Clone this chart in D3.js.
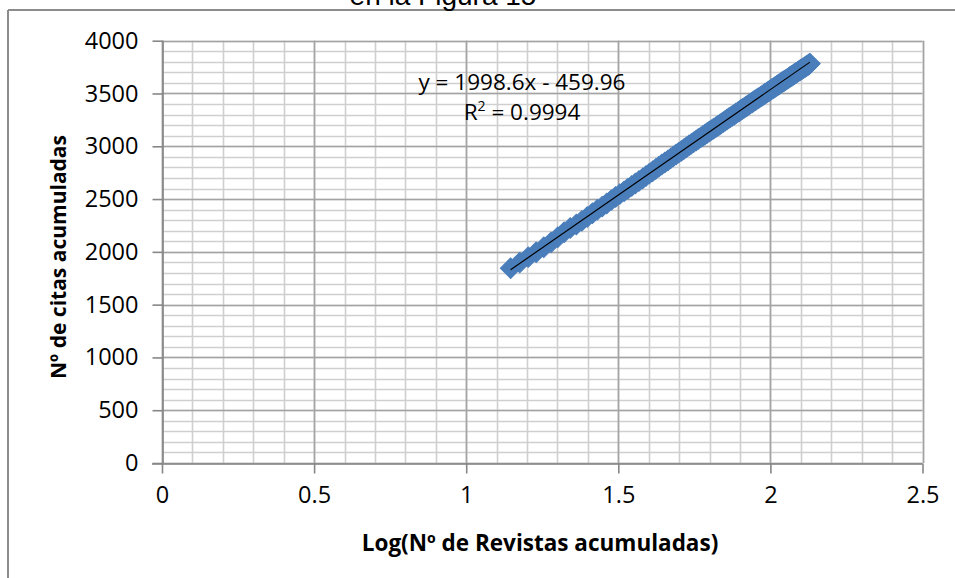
<!DOCTYPE html>
<html>
<head>
<meta charset="utf-8">
<script src="https://cdn.jsdelivr.net/npm/d3@7"></script>
<style>
  html, body { margin: 0; padding: 0; background: #fff; }
  svg { display: block; }
  text { font-family: "Open Sans", Lato, sans-serif; fill: #000; }
</style>
</head>
<body>
<svg id="chart" width="955" height="578"></svg>
<script>
// Log10 of the cumulative number of journals (14 .. 135)
const logRevistas = [1.146,1.176,1.204,1.230,1.255,1.279,1.301,1.322,1.342,1.362,1.380,1.398,1.415,1.431,1.447,1.462,1.477,1.491,1.505,1.519,1.531,1.544,1.556,1.568,1.580,1.591,1.602,1.613,1.623,1.633,1.643,1.653,1.663,1.672,1.681,1.690,1.699,1.708,1.716,1.724,1.732,1.740,1.748,1.756,1.763,1.771,1.778,1.785,1.792,1.799,1.806,1.813,1.820,1.826,1.833,1.839,1.845,1.851,1.857,1.863,1.869,1.875,1.881,1.886,1.892,1.898,1.903,1.908,1.914,1.919,1.924,1.929,1.934,1.940,1.944,1.949,1.954,1.959,1.964,1.968,1.973,1.978,1.982,1.987,1.991,1.996,2.000,2.004,2.009,2.013,2.017,2.021,2.025,2.029,2.033,2.037,2.041,2.045,2.049,2.053,2.057,2.061,2.064,2.068,2.072,2.076,2.079,2.083,2.086,2.090,2.093,2.097,2.100,2.104,2.107,2.111,2.114,2.117,2.121,2.124,2.127,2.130];

// Cumulative citations
const citasAcumuladas = [1845,1898,1950,1996,2043,2090,2138,2185,2226,2259,2293,2330,2366,2399,2428,2458,2490,2519,2547,2573,2598,2623,2647,2671,2695,2718,2741,2763,2785,2806,2827,2847,2866,2885,2904,2922,2940,2957,2974,2991,3007,3023,3039,3054,3069,3084,3098,3112,3126,3140,3153,3166,3179,3192,3204,3217,3229,3241,3253,3265,3276,3288,3299,3310,3321,3332,3343,3353,3364,3374,3384,3394,3404,3414,3424,3433,3443,3452,3461,3470,3479,3488,3497,3506,3514,3523,3531,3540,3548,3556,3564,3572,3580,3588,3596,3604,3611,3619,3626,3634,3641,3648,3656,3663,3670,3677,3684,3691,3698,3705,3712,3718,3725,3732,3738,3745,3751,3758,3764,3770,3777,3783];

// Linear trend fitted to the series
const trendSlope = 1998.6;
const trendIntercept = -459.96;
const trendLabel = "y = 1998.6x - 459.96";
const r2Label = "0.9994";

const xTicks = [0, 0.5, 1, 1.5, 2, 2.5];
const yTicks = [0, 500, 1000, 1500, 2000, 2500, 3000, 3500, 4000];
const xMinor = d3.range(0, 2.5001, 0.1);
const yMinor = d3.range(0, 4000.1, 100);

const xTitle = "Log(Nº de Revistas acumuladas)";
const yTitle = "Nº de citas acumuladas";
const captionTop = "en la Figura 15";

const svg = d3.select("#chart");
const x = d3.scaleLinear().domain([0, 2.5]).range([162, 922.5]);
const y = d3.scaleLinear().domain([0, 4000]).range([463, 40.7]);

// Chart frame (top and left edges)
svg.append("line").attr("x1", 8).attr("x2", 955).attr("y1", 10).attr("y2", 10)
  .attr("stroke", "#8c8c8c").attr("stroke-width", 2);
svg.append("line").attr("x1", 8).attr("x2", 8).attr("y1", 10).attr("y2", 578)
  .attr("stroke", "#8c8c8c").attr("stroke-width", 2);

// Caption text running above the frame
svg.append("text").attr("x", 443).attr("y", 5).attr("text-anchor", "middle")
  .style("font-family", "'Liberation Sans', Arial, sans-serif")
  .style("font-size", "28px").text(captionTop);

// Minor gridlines
const grid = svg.append("g");
grid.selectAll(".vminor").data(xMinor).join("line")
  .attr("x1", d => Math.round(x(d)) + 0.5).attr("x2", d => Math.round(x(d)) + 0.5)
  .attr("y1", y(4000)).attr("y2", y(0))
  .attr("stroke", "#cfcfcf").attr("stroke-width", 1.6);
grid.selectAll(".hminor").data(yMinor).join("line")
  .attr("x1", x(0)).attr("x2", x(2.5))
  .attr("y1", d => Math.round(y(d)) + 0.5).attr("y2", d => Math.round(y(d)) + 0.5)
  .attr("stroke", "#cfcfcf").attr("stroke-width", 1.6);

// Major gridlines
grid.selectAll(".vmajor").data(xTicks).join("line")
  .attr("x1", d => Math.round(x(d)) + 0.5).attr("x2", d => Math.round(x(d)) + 0.5)
  .attr("y1", y(4000)).attr("y2", y(0))
  .attr("stroke", "#a3a3a3").attr("stroke-width", 1.6);
grid.selectAll(".hmajor").data(yTicks).join("line")
  .attr("x1", x(0)).attr("x2", x(2.5))
  .attr("y1", d => Math.round(y(d)) + 0.5).attr("y2", d => Math.round(y(d)) + 0.5)
  .attr("stroke", "#a3a3a3").attr("stroke-width", 1.6);

// Axes
const xAxis = d3.axisBottom(x).tickValues(xTicks).tickSize(10).tickPadding(13)
  .tickFormat(d3.format("~g"));
const yAxis = d3.axisLeft(y).tickValues(yTicks).tickSize(10).tickPadding(14)
  .tickFormat(d3.format("d"));

const gx = svg.append("g").attr("transform", `translate(0,${Math.round(y(0)) + 0.5})`).call(xAxis);
const gy = svg.append("g").attr("transform", `translate(${Math.round(x(0)) + 0.5},0)`).call(yAxis);
[gx, gy].forEach(g => {
  g.select(".domain").attr("stroke", "#868686").attr("stroke-width", 1.6);
  g.selectAll(".tick line").attr("stroke", "#868686").attr("stroke-width", 1.6);
  g.selectAll(".tick text").style("font-size", "23.5px").attr("fill", "#111");
});
gx.select(".domain").attr("d", `M${x(0) - 10},0.5H${x(2.5)}`);
gy.select(".domain").attr("d", `M0.5,${y(4000)}V${y(0)}`);

// Scatter series: diamond markers
const data = logRevistas.map((v, i) => ({ x: v, y: citasAcumuladas[i] }));
const diamond = d3.symbol().type(d3.symbolSquare).size(210);
svg.append("g").selectAll("path").data(data).join("path")
  .attr("d", diamond)
  .attr("transform", d => `translate(${x(d.x)},${y(d.y)}) rotate(45)`)
  .attr("fill", "#4a7ebb").attr("stroke", "#4a7ebb").attr("stroke-width", 1);

// Linear trendline across the data range
const xExt = d3.extent(logRevistas);
svg.append("line")
  .attr("x1", x(xExt[0])).attr("y1", y(trendSlope * xExt[0] + trendIntercept))
  .attr("x2", x(xExt[1])).attr("y2", y(trendSlope * xExt[1] + trendIntercept))
  .attr("stroke", "#000").attr("stroke-width", 1.2);

// Trendline equation and R²
const eq = svg.append("g").style("font-size", "22.5px").attr("fill", "#111");
eq.append("text").attr("x", 522).attr("y", 90).attr("text-anchor", "middle").text(trendLabel);
const r2 = eq.append("text").attr("x", 522).attr("y", 120).attr("text-anchor", "middle");
r2.append("tspan").text("R");
r2.append("tspan").attr("dy", -9).style("font-size", "14px").text("2");
r2.append("tspan").attr("dy", 9).text(" = " + r2Label);

// Axis titles
svg.append("text").attr("x", 540).attr("y", 551).attr("text-anchor", "middle")
  .style("font-size", "22.5px").style("font-weight", "bold").text(xTitle);
svg.append("text").attr("transform", "translate(66,257) rotate(-90)")
  .attr("text-anchor", "middle")
  .style("font-size", "21px").style("font-weight", "bold").text(yTitle);
</script>
</body>
</html>
